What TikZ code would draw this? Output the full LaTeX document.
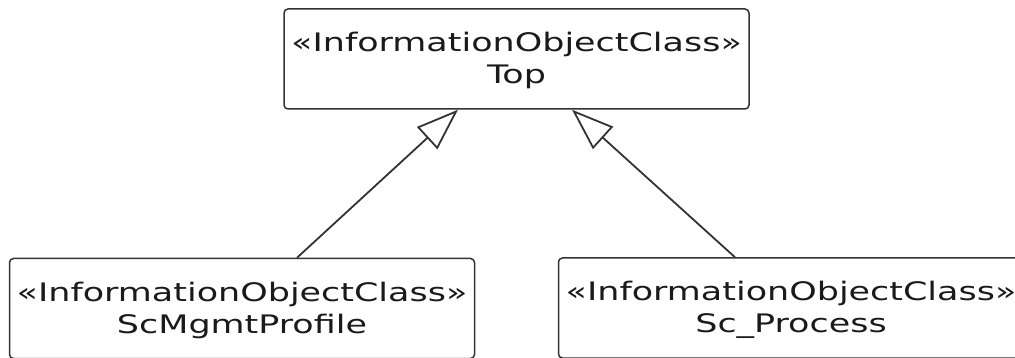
\documentclass[tikz,border=0pt]{standalone}
\usepackage{fontspec}
\setmainfont[FakeStretch=1.37]{DejaVu Sans}
\usetikzlibrary{arrows.meta}
\definecolor{linec}{HTML}{333333}
\definecolor{textc}{HTML}{1A1A1A}
\begin{document}
\begin{tikzpicture}[x=1pt,y=-1pt,
  classbox/.style={draw=linec, line width=1.5pt, rounded corners=4pt, fill=white,
    minimum width=465pt, minimum height=100pt, inner sep=0pt},
  lbl/.style={inner sep=0pt, anchor=base, text=textc, font=\fontsize{25.5}{31.5}\selectfont},
  gen/.style={draw=linec, line width=1.8pt,
    -{Triangle[open, length=42pt, width=30pt, line width=1.8pt]}}]
\useasboundingbox (0,0) rectangle (1015,358);
\begin{scope}
\clip (0,0) rectangle (1015,358);
% top class
\node[classbox] (top) at (516.5,59) {};
\node[lbl] (topst) at (516.5,52) {«InformationObjectClass»};
\node[lbl] (topnm) at (516.5,83.5) {Top};
% left class
\node[classbox] (ml) at (242,308.5) {};
\node[lbl] (mlst) at (242,301.5) {«InformationObjectClass»};
\node[lbl] (mlnm) at (242,333) {ScMgmtProfile};
% right class
\node[classbox] (sp) at (791,308) {};
\node[lbl] (spst) at (791,301) {«InformationObjectClass»};
\node[lbl] (spnm) at (791,332.5) {Sc\_Process};
% generalisations
\draw[gen] ([xshift=55pt]ml.north) -- ([xshift=-58.5pt]top.south);
\draw[gen] ([xshift=-56pt]sp.north) -- ([xshift=55.5pt]top.south);
\end{scope}
\end{tikzpicture}
\end{document}
